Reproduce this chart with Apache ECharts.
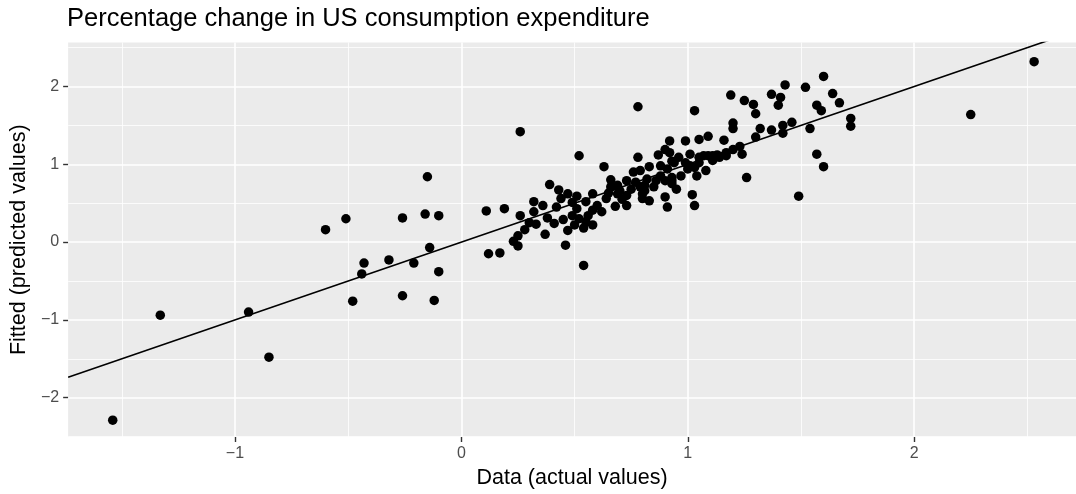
<!DOCTYPE html>
<html>
<head>
<meta charset="utf-8">
<title>Percentage change in US consumption expenditure</title>
<script src="https://cdn.jsdelivr.net/npm/echarts@6/dist/echarts.min.js"></script>
<style>
  html, body { margin: 0; padding: 0; background: #ffffff; }
  #chart { width: 1076px; height: 494px; }
</style>
</head>
<body>
<div id="chart"></div>
<script>
// Actual quarterly % change in consumption and the regression's fitted values
const actual = [
  -1.54, -1.33, -0.94, -0.85, -0.60, -0.51, -0.48, -0.43, -0.44, -0.32,
  -0.26, -0.26, -0.21, -0.15, -0.16, -0.10, -0.14, -0.10, -0.12,
  2.53, 2.25, 1.60, 1.43, 1.52, 1.37, 1.41, 1.25, 1.29, 1.40,
  1.30, 1.64, 1.57, 1.59, 1.67, 1.72, 1.72, 1.32, 1.37, 1.42,
  1.46, 1.42, 1.30, 1.54, 1.24, 1.57, 1.60, 1.26, 1.49,
  0.78, 1.03, 0.26, 1.19, 1.20, 1.20, 1.09, 1.05, 0.99, 0.92,
  1.16, 0.52, 0.78, 0.63, 0.39, 0.43, 0.47, 0.11, 0.19, 0.32,
  0.36, 0.26, 0.32, 0.30, 0.33, 0.28, 0.25, 0.23, 0.25, 0.37,
  0.12, 0.17, 0.46, 0.54, 0.38, 0.41, 0.45, 0.47, 0.44, 0.51,
  0.58, 0.49, 0.51, 0.49, 0.52, 0.55, 0.50, 0.54, 0.58, 0.56,
  0.60, 0.62, 0.64, 0.68, 0.66, 0.66, 0.73, 0.73, 0.73, 0.70,
  0.75, 0.76, 0.79, 0.77, 0.80, 0.81, 0.83, 0.82, 0.83, 0.85,
  0.87, 0.90, 0.92, 0.88, 0.88, 0.91, 0.90, 0.93, 0.90, 0.91,
  0.95, 0.94, 0.96, 0.97, 1.01, 1.01, 1.02, 1.03, 1.03, 1.04,
  1.05, 1.07, 1.08, 1.09, 1.11, 1.14, 1.17, 1.20, 1.23,
  0.69, 0.58, 1.05, 0.93, 0.99, 1.00, 0.93, 0.86, 0.93, 0.69,
  0.79, 0.81, 0.80, 1.17, 0.42, 0.55, 0.65, 0.71, 1.11, 1.13
];
const fitted = [
  -2.29, -0.94, -0.90, -1.48, 0.16, 0.30, -0.76, -0.27, -0.41, -0.23,
  0.31, -0.69, -0.27, 0.84, 0.36, 0.34, -0.07, -0.38, -0.75,
  2.32, 1.64, 2.13, 2.02, 1.99, 1.90, 1.86, 1.82, 1.77, 1.76,
  1.65, 1.91, 1.76, 1.69, 1.79, 1.59, 1.49, 1.46, 1.44, 1.50,
  1.54, 1.40, 1.35, 1.46, 1.13, 1.13, 0.97, 0.83, 0.59,
  1.74, 1.69, 1.42, 1.89, 1.53, 1.46, 1.36, 1.32, 1.30, 1.30,
  1.31, 1.11, 1.09, 0.97, 0.74, 0.67, 0.62, 0.40, 0.43, 0.52,
  0.47, 0.34, 0.39, 0.25, 0.23, 0.16, 0.08, 0.01, -0.05, 0.10,
  -0.15, -0.14, -0.04, -0.30, 0.31, 0.24, 0.29, 0.15, 0.56, 0.59,
  0.62, 0.51, 0.43, 0.34, 0.30, 0.26, 0.22, 0.18, 0.22, 0.34,
  0.47, 0.39, 0.56, 0.46, 0.80, 0.71, 0.79, 0.47, 0.60, 0.66,
  0.68, 0.90, 0.92, 0.77, 0.62, 0.73, 0.97, 0.81, 0.53, 0.71,
  1.12, 1.19, 1.15, 0.98, 0.85, 0.94, 0.79, 0.79, 0.58, 0.45,
  0.68, 1.02, 1.09, 0.85, 1.13, 0.98, 0.61, 0.47, 0.96, 0.85,
  1.02, 1.11, 0.92, 1.11, 1.11, 1.09, 1.11, 1.19, 1.23,
  0.62, 0.41, 1.09, 1.04, 1.02, 0.94, 0.83, 0.79, 0.75, 0.73,
  0.71, 0.66, 0.56, 1.15, 0.45, 0.52, 0.63, 0.55, 1.05, 1.12
];

// Reference line y = intercept + slope * x
const refLine = { intercept: 0, slope: 1 };

// Axis extents and tick/grid positions
const xRange = [-1.737, 2.715];
const yRange = [-2.506, 2.566];
const xMajor = [-1, 0, 1, 2];
const xMinor = [-1.5, -0.5, 0.5, 1.5, 2.5];
const yMajor = [-2, -1, 0, 1, 2];
const yMinor = [-2.5, -1.5, -0.5, 0.5, 1.5, 2.5];

const FONT = '"Liberation Sans", Arial, Helvetica, sans-serif';
const points = actual.map((x, i) => [x, fitted[i]]);
const lineData = xRange.map(x => [x, refLine.intercept + refLine.slope * x]);

const fmt = v => {
  if (Math.abs(v - Math.round(v)) > 1e-9) return '';
  return v < 0 ? '\u2212' + Math.abs(v) : String(v);
};

const gridLine = (axis, values, width) => values.map(v => ({
  [axis]: v,
  lineStyle: { color: '#ffffff', width: width, type: 'solid' }
}));

const chart = echarts.init(document.getElementById('chart'), null, { renderer: 'canvas' });
chart.setOption({
  animation: false,
  backgroundColor: '#ffffff',
  title: {
    text: 'Percentage change in US consumption expenditure',
    left: 67,
    top: 6,
    padding: 0,
    textStyle: { fontFamily: FONT, fontSize: 25.5, fontWeight: 'normal', color: '#000000' }
  },
  grid: {
    left: 68, right: 0, top: 42.5, bottom: 53.3,
    show: true, backgroundColor: '#EBEBEB', borderWidth: 0
  },
  xAxis: {
    type: 'value',
    min: xRange[0], max: xRange[1],
    name: 'Data (actual values)',
    nameLocation: 'middle',
    nameGap: 30,
    nameTextStyle: { fontFamily: FONT, fontSize: 21.5, color: '#000000' },
    axisLine: { show: false, onZero: false },
    axisTick: { show: true, customValues: xMajor, length: 5, lineStyle: { color: '#333333', width: 1.4 } },
    axisLabel: { customValues: xMajor, formatter: fmt, margin: 9, fontFamily: FONT, fontSize: 16, color: '#4D4D4D' },
    splitLine: { show: false }
  },
  yAxis: {
    type: 'value',
    min: yRange[0], max: yRange[1],
    name: 'Fitted (predicted values)',
    nameLocation: 'middle',
    nameGap: 35,
    nameTextStyle: { fontFamily: FONT, fontSize: 21.5, color: '#000000' },
    axisLine: { show: false, onZero: false },
    axisTick: { show: true, customValues: yMajor, length: 5, lineStyle: { color: '#333333', width: 1.4 } },
    axisLabel: { customValues: yMajor, formatter: fmt, margin: 9, fontFamily: FONT, fontSize: 16, color: '#4D4D4D' },
    splitLine: { show: false }
  },
  series: [
    {
      // panel grid: minor then major lines
      type: 'line',
      data: [],
      z: 1,
      silent: true,
      markLine: {
        z: 1,
        silent: true,
        symbol: 'none',
        label: { show: false },
        animation: false,
        data: [
          ...gridLine('xAxis', xMinor, 0.8),
          ...gridLine('yAxis', yMinor, 0.8),
          ...gridLine('xAxis', xMajor, 1.6),
          ...gridLine('yAxis', yMajor, 1.6)
        ]
      }
    },
    {
      type: 'scatter',
      data: points,
      symbol: 'circle',
      symbolSize: 9.5,
      itemStyle: { color: '#000000', opacity: 1 },
      z: 3,
      silent: true
    },
    {
      type: 'line',
      data: lineData,
      showSymbol: false,
      clip: true,
      lineStyle: { color: '#000000', width: 1.6 },
      z: 4,
      silent: true
    }
  ]
});
</script>
</body>
</html>
